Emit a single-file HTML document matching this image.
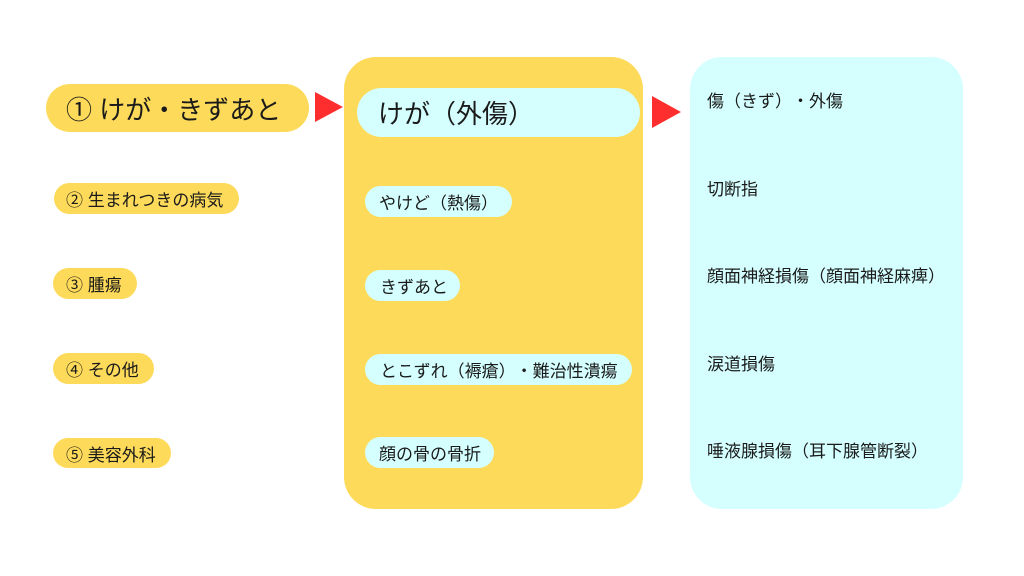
<!DOCTYPE html>
<html><head><meta charset="utf-8"><style>
html,body{margin:0;padding:0;background:#fff;}
body{width:1024px;height:576px;position:relative;overflow:hidden;font-family:"Liberation Sans","Noto Sans CJK JP",sans-serif;color:#1a1a1a;text-spacing-trim:space-all;}
.a{position:absolute;box-sizing:border-box;}
.p{position:absolute;box-sizing:border-box;display:flex;align-items:center;white-space:nowrap;text-spacing-trim:space-all;}
.y{background:#FDDA5A;}
.c{background:#D5FFFF;}
.t{position:absolute;white-space:nowrap;font-size:17px;line-height:20px;text-spacing-trim:space-all;}
</style></head><body>
<div class="a y" style="left:344px;top:57px;width:299px;height:452px;border-radius:32px;"></div>
<div class="a c" style="left:690px;top:57px;width:273px;height:452px;border-radius:32px;"></div>

<div class="p y" style="left:46px;top:84px;width:263px;height:48px;border-radius:24px;padding-left:20px;font-size:26px;">①&nbsp;けが・きずあと</div>
<div class="p y" style="left:54px;top:183px;width:185px;height:31px;border-radius:16px;padding-left:12px;font-size:17px;">② 生まれつきの病気</div>
<div class="p y" style="left:53px;top:268px;width:84px;height:31px;border-radius:16px;padding-left:13px;font-size:17px;">③ 腫瘍</div>
<div class="p y" style="left:53px;top:353px;width:101px;height:31px;border-radius:16px;padding-left:13px;font-size:17px;">④ その他</div>
<div class="p y" style="left:53px;top:438px;width:118px;height:30px;border-radius:15px;padding-left:13px;font-size:17px;">⑤ 美容外科</div>

<svg class="a" style="left:0;top:0" width="1024" height="576">
<polygon points="315,92 343,107 315,122" fill="#FF2E2E"/>
<polygon points="652,96 681,112 652,128" fill="#FF2E2E"/>
</svg>

<div class="p c" style="left:357px;top:88px;width:283px;height:49px;border-radius:25px;padding-left:21px;font-size:26px;">けが（外傷）</div>
<div class="p c" style="left:365px;top:186px;width:147px;height:31px;border-radius:16px;padding-left:14px;font-size:17px;">やけど（熱傷）</div>
<div class="p c" style="left:365px;top:270px;width:95px;height:31px;border-radius:16px;padding-left:15px;font-size:17px;">きずあと</div>
<div class="p c" style="left:365px;top:354px;width:267px;height:31px;border-radius:16px;padding-left:15px;font-size:17px;">とこずれ（褥瘡）・難治性潰瘍</div>
<div class="p c" style="left:365px;top:437px;width:129px;height:31px;border-radius:16px;padding-left:14px;font-size:17px;">顔の骨の骨折</div>

<div class="t" style="left:707px;top:92px;">傷（きず）・外傷</div>
<div class="t" style="left:707px;top:180px;">切断指</div>
<div class="t" style="left:707px;top:267px;">顔面神経損傷（顔面神経麻痺）</div>
<div class="t" style="left:707px;top:355px;">涙道損傷</div>
<div class="t" style="left:707px;top:442px;">唾液腺損傷（耳下腺管断裂）</div>
</body></html>
